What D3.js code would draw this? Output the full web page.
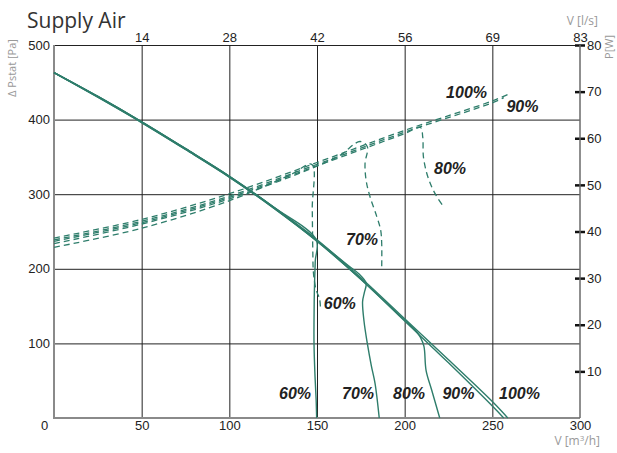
<!DOCTYPE html>
<html>
<head>
<meta charset="utf-8">
<script src="https://cdn.jsdelivr.net/npm/d3@7"></script>
<style>
  html, body { margin: 0; padding: 0; background: #fff; }
  svg { display: block; }
</style>
</head>
<body>
<svg id="chart" width="617" height="453"></svg>
<script>
// ---------- DATA ----------
const flowTicks = [0, 50, 100, 150, 200, 250, 300];        // V [m3/h]
const lpsLabels = ["14", "28", "42", "56", "69", "83"];     // V [l/s] at 50..300
const pressureTicks = [100, 200, 300, 400, 500];             // Δ Pstat [Pa]
const powerTicks = [10, 20, 30, 40, 50, 60, 70, 80];         // P [W]

// pressure curves [flow m3/h, Pa]
const pressure100 = [[0,463],[25,431],[50,397],[75,361],[100,324],[125,283],[150,239],[175,188],[200,133],[225,78],[250,22],[258.8,0]];
const pressure90  = [[0,463],[25,430],[50,396],[75,360],[100,323],[125,282],[150,237],[175,186],[200,130],[225,74],[250,16],[256.5,0]];
const pressure80  = [[0,463],[25,430],[50,396],[75,360],[100,323],[125,282],[150,237],[175,186],[200,131],[206,118],[209,108],[211,96],[212.2,64],[215.4,37.5],[220,0]];
const pressure70  = [[0,463],[25,431],[50,397],[75,361],[100,324],[125,283],[150,238],[160,219],[168,204],[174,193],[178,181],[177,168],[176,156],[176.8,130],[178.7,100],[181,70],[183.1,46.5],[185.5,0]];
const pressure60  = [[0,463],[25,431],[50,397],[75,361],[100,324],[125,283],[149.5,239],[149,210],[148.5,170],[148.3,130],[148.3,100],[148.8,60],[149.5,25],[149.8,0]];

// power curves [flow m3/h, W]
const power100 = [[0,38.6],[50,42.6],[100,48.1],[150,54.8],[200,61.7],[250,68],[258.8,69.4]];
const power90  = [[0,38.2],[50,42.2],[100,47.6],[150,54.4],[200,61.3],[250,67.6],[256.5,68.7]];
const power80  = [[0,37.9],[50,41.9],[100,47.3],[150,54.1],[200,61.0],[209,62.3],[210.3,60.3],[210.7,56],[212.6,52.5],[215.4,49.6],[218.3,47.5],[221.5,45.7]];
const power70  = [[0,37.4],[50,41.6],[100,47.0],[150,54.0],[163,56.3],[174.5,59.3],[178.7,58.2],[177.4,54.6],[178,51],[180.2,47.5],[184.1,43.2],[186.3,40.3],[186.9,37.5],[186.9,32.1]];
const power60  = [[0,36.6],[50,40.7],[100,46.6],[135,52.2],[147,54.4],[147.3,45],[147.6,36],[148,31],[149.5,27.5],[151.5,25.5],[152,23.2]];

const speedLabels = ["60%", "70%", "80%", "90%", "100%"];
// label anchor points: bottom row (flow, Pa) and near power curves (flow, W)
const bottomLabelPts = [[137.5,25],[173.4,25],[202.5,25],[230.7,25],[265.5,25]];
const powerLabelPts = [[163,23.4],[175.7,37.1],[225.9,52.3],[267.2,65.6],[235.3,68.6]];

// ---------- CHART ----------
const svg = d3.select("#chart");
const L = 54, R = 580, T = 45, B = 418;
const x = d3.scaleLinear().domain([0, 300]).range([L, R]);
const yP = d3.scaleLinear().domain([0, 500]).range([B, T]);
const yW = d3.scaleLinear().domain([0, 80]).range([B, T]);
const green = "#2e7d6b";
const tickFont = "'Liberation Sans', Arial, sans-serif";

// Title
svg.append("text").attr("x", 27).attr("y", 28)
  .attr("font-family", "'Open Sans', sans-serif").attr("font-size", 21)
  .attr("fill", "#333").text("Supply Air");

// Left axis with horizontal gridlines
const gLeft = svg.append("g").attr("transform", `translate(${L},0)`)
  .call(d3.axisLeft(yP).tickValues(pressureTicks).tickSize(-(R - L)).tickPadding(4));
gLeft.select(".domain").remove();
gLeft.selectAll(".tick line").attr("stroke", "#222").attr("stroke-width", 1);
gLeft.selectAll(".tick text").attr("font-family", tickFont).attr("font-size", 13).attr("fill", "#222");

// Bottom axis with vertical gridlines
const gBottom = svg.append("g").attr("transform", `translate(0,${B})`)
  .call(d3.axisBottom(x).tickValues(flowTicks).tickSize(-(B - T)).tickPadding(3));
gBottom.select(".domain").remove();
gBottom.selectAll(".tick line").attr("stroke", "#222").attr("stroke-width", 1)
  .attr("display", d => (d === 0 || d === 300) ? "none" : null);
gBottom.selectAll(".tick text").attr("font-family", tickFont).attr("font-size", 13).attr("fill", "#222")
  .attr("dx", d => d === 0 ? -10 : 0);

// Top axis (l/s)
const gTop = svg.append("g").attr("transform", `translate(0,${T})`)
  .call(d3.axisTop(x).tickValues(flowTicks.slice(1)).tickFormat((d, i) => lpsLabels[i]).tickSize(0).tickPadding(3));
gTop.select(".domain").remove();
gTop.selectAll(".tick text").attr("font-family", tickFont).attr("font-size", 13).attr("fill", "#222");

// Axis lines (left, bottom gray)
svg.append("line").attr("x1", L).attr("x2", L).attr("y1", T).attr("y2", B + 1)
  .attr("stroke", "#8a8a8a").attr("stroke-width", 2);
svg.append("line").attr("x1", L).attr("x2", R).attr("y1", B).attr("y2", B)
  .attr("stroke", "#8a8a8a").attr("stroke-width", 2);

// Right axis (power)
const gRight = svg.append("g").attr("transform", `translate(${R},0)`)
  .call(d3.axisRight(yW).tickValues(powerTicks).tickSize(6).tickPadding(1));
gRight.select(".domain").remove();
gRight.selectAll(".tick line").attr("x1", -5).attr("x2", 5).attr("stroke", "#111").attr("stroke-width", 2.5);
gRight.selectAll(".tick text").attr("font-family", tickFont).attr("font-size", 13).attr("fill", "#222");
svg.append("line").attr("x1", R).attr("x2", R).attr("y1", T).attr("y2", B)
  .attr("stroke", "#6a6a6a").attr("stroke-width", 1.5);

// Axis titles
const titleFont = "'Open Sans', sans-serif";
svg.append("text").attr("transform", "translate(16,68) rotate(-90)")
  .attr("text-anchor", "middle").attr("font-family", titleFont).attr("font-size", 11)
  .attr("fill", "#999").text("Δ Pstat [Pa]");
svg.append("text").attr("x", 598).attr("y", 25).attr("text-anchor", "end")
  .attr("font-family", titleFont).attr("font-size", 12).attr("fill", "#999").text("V [l/s]");
svg.append("text").attr("transform", "translate(613,47) rotate(-90)")
  .attr("text-anchor", "middle").attr("font-family", titleFont).attr("font-size", 11)
  .attr("fill", "#999").text("P[W]");
const vt = svg.append("text").attr("x", 600).attr("y", 445).attr("text-anchor", "end")
  .attr("font-family", titleFont).attr("font-size", 12).attr("fill", "#999");
vt.append("tspan").text("V [m");
vt.append("tspan").attr("font-size", 8).attr("dy", -4).text("3");
vt.append("tspan").attr("dy", 4).text("/h]");

// Curves
const lineP = d3.line().x(d => x(d[0])).y(d => yP(d[1])).curve(d3.curveCatmullRom.alpha(0.5));
const lineW = d3.line().x(d => x(d[0])).y(d => yW(d[1])).curve(d3.curveCatmullRom.alpha(0.5));

const powerSeries = [power60, power70, power80, power90, power100];
const pressureSeries = [pressure60, pressure70, pressure80, pressure90, pressure100];

svg.append("g").selectAll("path").data(powerSeries).join("path")
  .attr("d", lineW).attr("fill", "none").attr("stroke", green)
  .attr("stroke-width", 1.3).attr("stroke-dasharray", "6,4");

svg.append("g").selectAll("path").data(pressureSeries).join("path")
  .attr("d", lineP).attr("fill", "none").attr("stroke", green)
  .attr("stroke-width", 1.4);

// Labels
const labelFont = "'Liberation Sans', Arial, sans-serif";
svg.append("g").selectAll("text").data(speedLabels).join("text")
  .attr("x", (d, i) => x(bottomLabelPts[i][0])).attr("y", (d, i) => yP(bottomLabelPts[i][1]))
  .attr("text-anchor", "middle").attr("font-family", labelFont).attr("font-size", 16)
  .attr("font-weight", "bold").attr("font-style", "italic").attr("fill", "#222").text(d => d);

svg.append("g").selectAll("text").data(speedLabels).join("text")
  .attr("x", (d, i) => x(powerLabelPts[i][0])).attr("y", (d, i) => yW(powerLabelPts[i][1]))
  .attr("text-anchor", "middle").attr("font-family", labelFont).attr("font-size", 16)
  .attr("font-weight", "bold").attr("font-style", "italic").attr("fill", "#222").text(d => d);
</script>
</body>
</html>
